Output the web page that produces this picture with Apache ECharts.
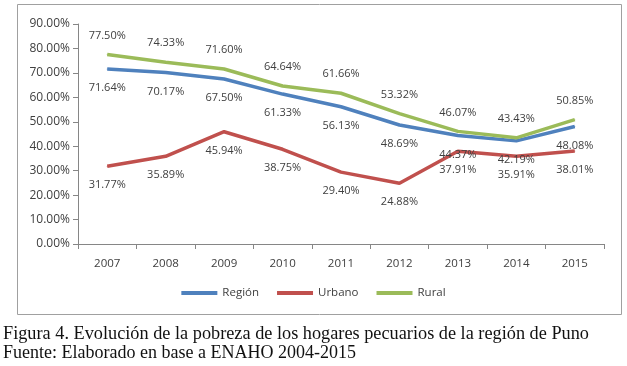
<!DOCTYPE html>
<html><head><meta charset="utf-8">
<script src="https://cdn.jsdelivr.net/npm/echarts@6/dist/echarts.min.js"></script>
<style>html,body{margin:0;padding:0;background:#fff}#c{width:627px;height:366px}</style>
</head><body><div id="c"></div>
<script>
const years = ['2007','2008','2009','2010','2011','2012','2013','2014','2015'];
const region = [71.64, 70.17, 67.50, 61.33, 56.13, 48.69, 44.37, 42.19, 48.08];
const urbano = [31.77, 35.89, 45.94, 38.75, 29.40, 24.88, 37.91, 35.91, 38.01];
const rural  = [77.50, 74.33, 71.60, 64.64, 61.66, 53.32, 46.07, 43.43, 50.85];
const captionLines = ['Figura 4. Evolución de la pobreza de los hogares pecuarios de la región de Puno', 'Fuente: Elaborado en base a ENAHO 2004-2015'];

const chart = echarts.init(document.getElementById('c'));
const lblFont = {fontFamily:'Open Sans', fontSize:11, color:'#404040'};
function mk(name, data, color, pos){
  return {name, type:'line', data, symbol:'circle', symbolSize:1, showSymbol:true,
    lineStyle:{width:3.5, color}, itemStyle:{color},
    labelLayout:{hideOverlap:false},
    label:{show:true, position:pos, distance:13, formatter:p=>p.value.toFixed(2)+'%', ...lblFont}};
}
chart.setOption({
  animation:false,
  grid:{left:78, right:23, top:24, bottom:122},
  legend:{bottom:62, left:'center', itemWidth:36, itemHeight:4, itemGap:18,
    icon:'rect', textStyle:{...lblFont, fontSize:11.5, color:'#404040'},
    data:['Región','Urbano','Rural']},
  xAxis:{type:'category', data:years, boundaryGap:true,
    axisLine:{lineStyle:{color:'#868686'}}, axisTick:{show:true, length:5, lineStyle:{color:'#868686'}},
    axisLabel:{...lblFont, fontSize:11.5, margin:14}},
  yAxis:{type:'value', min:0, max:90, interval:10,
    axisLine:{show:true, lineStyle:{color:'#868686'}}, axisTick:{show:true, length:5, lineStyle:{color:'#868686'}},
    splitLine:{show:false},
    axisLabel:{...lblFont, fontSize:12, margin:8, formatter:v=>v.toFixed(2)+'%'}},
  series:[mk('Región', region, '#4F81BD', 'bottom'), mk('Urbano', urbano, '#C0504D', 'bottom'), mk('Rural', rural, '#9BBB59', 'top')],
  graphic:[
    {type:'rect', shape:{x:17.5, y:4.5, width:604, height:310}, style:{fill:'none', stroke:'#a0a0a0', lineWidth:1}, z:-1},
    {type:'text', x:3, y:325, scaleX:1.015, style:{text:captionLines[0], font:'18px "Liberation Serif"', fill:'#111'}},
    {type:'text', x:3, y:344, style:{text:captionLines[1], font:'18px "Liberation Serif"', fill:'#111'}}
  ]
});
</script></body></html>
